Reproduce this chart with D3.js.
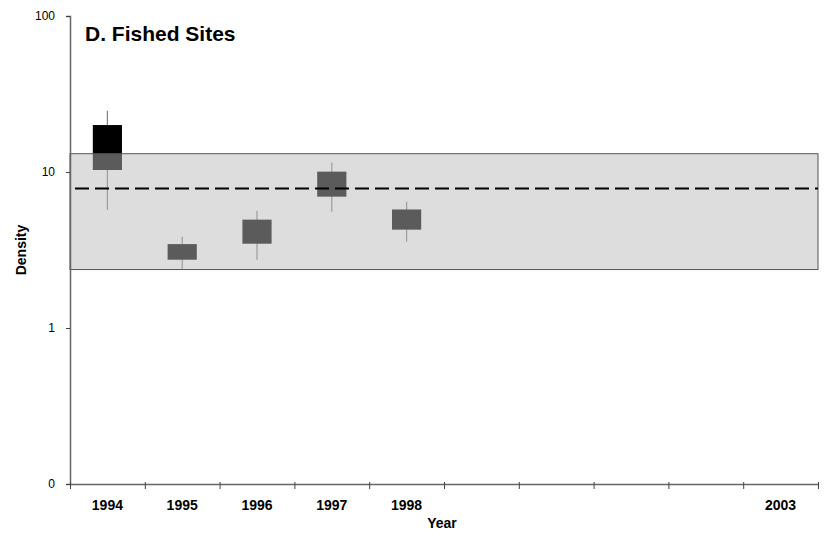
<!DOCTYPE html>
<html>
<head>
<meta charset="utf-8">
<script src="https://cdn.jsdelivr.net/npm/d3@7"></script>
<style>
  body { margin: 0; background: #fff; }
  text { font-family: "Liberation Sans", Arial, sans-serif; fill: #000; }
</style>
</head>
<body>
<div id="chart"></div>
<script>
// chart values
const years = ["1994", "1995", "1996", "1997", "1998", "1999", "2000", "2001", "2002", "2003"];
const yearLabels = ["1994", "1995", "1996", "1997", "1998", "", "", "", "", "2003"];
const boxYears = ["1994", "1995", "1996", "1997", "1998"];
const boxHigh = [20, 3.45, 4.95, 10.05, 5.75];
const boxLow = [10.3, 2.74, 3.47, 6.95, 4.27];
const whiskerHigh = [24.7, 3.85, 5.65, 11.5, 6.45];
const whiskerLow = [5.7, 2.37, 2.74, 5.56, 3.57];
const bandRange = [2.37, 13.1];
const bandMean = 7.85;
const yTicks = [0.1, 1, 10, 100];

const width = 825, height = 537;
const margin = {top: 16, right: 7, bottom: 53, left: 70};

const svg = d3.select("#chart")
  .append("svg")
  .attr("width", width)
  .attr("height", height);

const xScale = d3.scaleBand()
  .domain(years)
  .range([margin.left, width - margin.right]);

const xEdge = d3.scaleLinear()
  .domain([0, years.length])
  .range([margin.left, width - margin.right]);

const yScale = d3.scaleLog()
  .domain([0.1, 100])
  .range([height - margin.bottom, margin.top]);

const boxW = xScale.bandwidth() * 0.39;
const boxes = boxYears.map((yr, i) => ({
  year: yr, hi: boxHigh[i], lo: boxLow[i], wHi: whiskerHigh[i], wLo: whiskerLow[i]
}));

// whiskers
svg.append("g").selectAll("line")
  .data(boxes)
  .join("line")
  .attr("x1", d => xScale(d.year) + xScale.bandwidth() / 2)
  .attr("x2", d => xScale(d.year) + xScale.bandwidth() / 2)
  .attr("y1", d => yScale(d.wHi))
  .attr("y2", d => yScale(d.wLo))
  .attr("stroke", "#808080")
  .attr("stroke-width", 1.2);

// boxes
svg.append("g").selectAll("rect")
  .data(boxes)
  .join("rect")
  .attr("x", d => xScale(d.year) + (xScale.bandwidth() - boxW) / 2)
  .attr("width", boxW)
  .attr("y", d => yScale(d.hi))
  .attr("height", d => yScale(d.lo) - yScale(d.hi))
  .attr("fill", "#000");

// reference band on top (semi transparent)
svg.append("rect")
  .attr("x", margin.left)
  .attr("width", width - margin.right - margin.left)
  .attr("y", yScale(bandRange[1]))
  .attr("height", yScale(bandRange[0]) - yScale(bandRange[1]))
  .attr("fill", "#b9b9b9")
  .attr("fill-opacity", 0.49)
  .attr("stroke", "#555")
  .attr("stroke-width", 1);

// mean line
svg.append("line")
  .attr("x1", margin.left)
  .attr("x2", width - margin.right)
  .attr("y1", yScale(bandMean))
  .attr("y2", yScale(bandMean))
  .attr("stroke", "#000")
  .attr("stroke-width", 2)
  .attr("stroke-dasharray", "14,6")
  .attr("stroke-dashoffset", -5);

// y axis
const yAxis = d3.axisLeft(yScale)
  .tickValues(yTicks)
  .tickFormat(d => d < 1 ? "0" : d)
  .tickSize(4)
  .tickPadding(11);

const gy = svg.append("g")
  .attr("transform", `translate(${margin.left},0)`)
  .call(yAxis);
gy.select(".domain").attr("stroke", "#666").attr("stroke-width", 1.5);
gy.selectAll(".tick line").attr("stroke", "#444");
gy.selectAll(".tick text")
  .attr("font-size", 12)
  .attr("font-family", "Liberation Sans, Arial, sans-serif")
  .attr("fill", "#000");

// x axis (ticks at band edges)
const xAxis = d3.axisBottom(xEdge)
  .tickValues(d3.range(years.length + 1))
  .tickFormat("")
  .tickSizeInner(5)
  .tickSizeOuter(0);

const gx = svg.append("g")
  .attr("transform", `translate(0,${height - margin.bottom})`)
  .call(xAxis);
gx.select(".domain").attr("stroke", "#666").attr("stroke-width", 1.5);
gx.selectAll(".tick line").attr("stroke", "#444").attr("y1", -2);

// year labels
svg.append("g").selectAll("text")
  .data(years)
  .join("text")
  .attr("x", d => xScale(d) + xScale.bandwidth() / 2)
  .attr("y", 510)
  .attr("text-anchor", "middle")
  .attr("font-size", 14)
  .attr("font-weight", "bold")
  .text((d, i) => yearLabels[i]);

// axis titles
svg.append("text")
  .attr("x", 442)
  .attr("y", 528)
  .attr("text-anchor", "middle")
  .attr("font-size", 14)
  .attr("font-weight", "bold")
  .text("Year");

svg.append("text")
  .attr("transform", "translate(26,250) rotate(-90)")
  .attr("text-anchor", "middle")
  .attr("font-size", 14)
  .attr("font-weight", "bold")
  .text("Density");

// panel title
svg.append("text")
  .attr("x", 85)
  .attr("y", 41)
  .attr("font-size", 21)
  .attr("font-weight", "bold")
  .text("D. Fished Sites");
</script>
</body>
</html>
